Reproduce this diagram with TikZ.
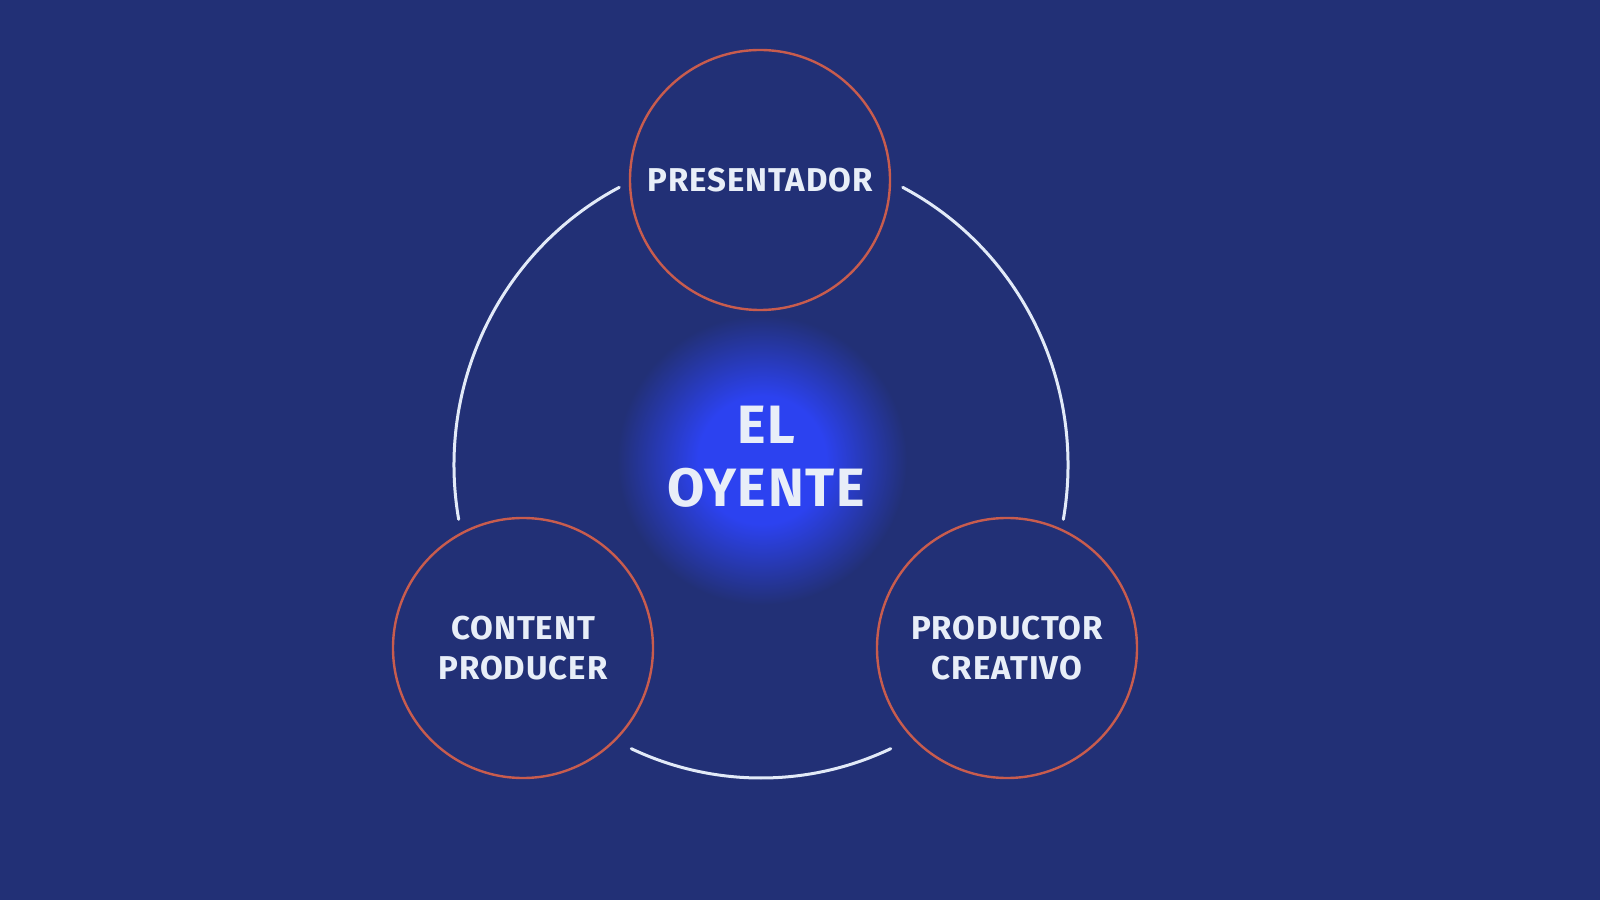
\documentclass[tikz,border=0pt]{standalone}
\usepackage{fontspec}
\setmainfont{Fira Sans}[LetterSpace=3]
\usetikzlibrary{calc}
\definecolor{bgc}{RGB}{34,48,118}
\definecolor{glowc}{RGB}{44,66,240}
\definecolor{ringc}{RGB}{200,92,78}
\definecolor{arcc}{RGB}{226,234,248}
\definecolor{txtc}{RGB}{232,238,248}
\pgfdeclareradialshading{glowshade}{\pgfpoint{0bp}{0bp}}{color(0bp)=(glowc); color(11bp)=(glowc); color(25bp)=(bgc); color(50bp)=(bgc)}
\tikzset{
  role/.style={circle, draw=ringc, line width=2.4pt, minimum size=260pt, inner sep=0pt,
    text=txtc, align=center, font=\fontsize{33}{40}\selectfont\bfseries},
  ringarc/.style={draw=arcc, line width=3pt, line cap=round},
  centre/.style={text=txtc, align=center, font=\fontsize{54}{63}\selectfont\bfseries}
}
\begin{document}
\begin{tikzpicture}[x=1pt,y=1pt]
\useasboundingbox (0,0) rectangle (1600,900);
\fill[bgc] (0,0) rectangle (1600,900);
\coordinate (ring) at (761,435);
\coordinate (glow) at (762,440);
\shade[shading=glowshade] (glow) circle[radius=145pt];
\node[role] (pres) at (760,720) {PRESENTADOR};
\node[role] (cont) at (523,252) {CONTENT\\PRODUCER};
\node[role] (prod) at (1007,252) {PRODUCTOR\\CREATIVO};
\node[centre] (oyente) at (766,443) {EL\\OYENTE};
\draw[ringarc] ($(ring)+(62.5:307pt and 313pt)$) arc[start angle=62.5, end angle=-10, x radius=307pt, y radius=313pt];
\draw[ringarc] ($(ring)+(117.5:307pt and 313pt)$) arc[start angle=117.5, end angle=190, x radius=307pt, y radius=313pt];
\draw[ringarc] ($(ring)+(-115:307pt and 313pt)$) arc[start angle=-115, end angle=-65, x radius=307pt, y radius=313pt];
\end{tikzpicture}
\end{document}
